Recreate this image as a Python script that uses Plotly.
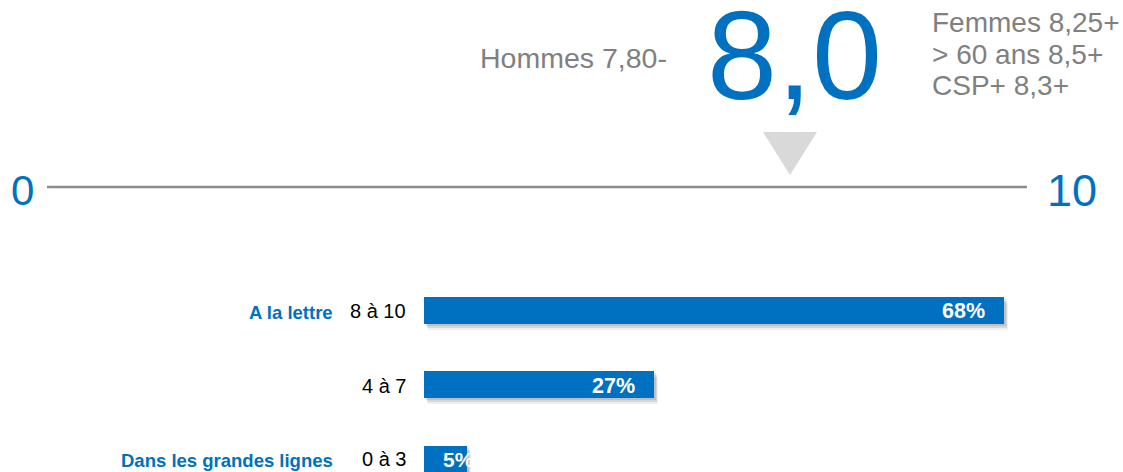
import plotly.graph_objects as go

# ---- data -------------------------------------------------------------
score = 8.0
score_min, score_max = 0, 10
left_groups = ["Hommes 7,80-"]
right_groups = ["Femmes 8,25+", "> 60 ans 8,5+", "CSP+ 8,3+"]

ranges = ["8 à 10", "4 à 7", "0 à 3"]
shares = [68, 27, 5]
range_notes = {"8 à 10": "A la lettre", "0 à 3": "Dans les grandes lignes"}

# ---- styling ----------------------------------------------------------
W, H = 1123, 472
BLUE = "#0070C0"
GREY = "#808080"
FONT = "Arial, Liberation Sans, sans-serif"


def px_x(p):
    return p / W


def px_y(p):
    return 1 - p / H


fig = go.Figure()

# bar geometry: category positions top to bottom
n = len(ranges)
ypos = [n - 1 - i for i in range(n)]
y_lo, y_hi = -0.1745, 6.161
unit_px = H / (y_hi - y_lo)
bar_w = 27 / unit_px

x_left_px = 424
x_full = 68 * (W - x_left_px) / (1004 - x_left_px)
unit_x = (W - x_left_px) / x_full

# soft drop shadow under each bar
for dx, dy, alpha in [(2, 2, 0.10), (3, 4, 0.10), (4, 6, 0.06)]:
    fig.add_trace(go.Bar(
        y=ypos, x=shares, base=[dx / unit_x] * n, orientation="h",
        width=bar_w, offset=-bar_w / 2 - dy / unit_px,
        marker=dict(color=f"rgba(0,0,0,{alpha})", line=dict(width=0)),
        hoverinfo="skip", showlegend=False,
    ))

fig.add_trace(go.Bar(
    y=ypos, x=shares, orientation="h", width=bar_w,
    marker=dict(color=BLUE, line=dict(width=0)),
    hovertemplate="%{x}%<extra></extra>", showlegend=False,
))

annotations = []
for r, v, yp in zip(ranges, shares, ypos):
    last_row = yp == 0
    # value label inside the bar
    if v * unit_x > 60:
        annotations.append(dict(x=v, y=yp, xref="x", yref="y", text=f"<b>{v}%</b>",
                                xanchor="right", yanchor="middle", xshift=-17,
                                yshift=0 if last_row else -1,
                                showarrow=False, font=dict(family=FONT, size=21.5, color="white")))
    else:
        annotations.append(dict(x=0, y=yp, xref="x", yref="y", text=f"<b>{v}%</b>",
                                xanchor="left", yanchor="middle", xshift=17,
                                yshift=0 if last_row else -1,
                                showarrow=False, font=dict(family=FONT, size=21, color="white")))
    # range label left of the bar
    annotations.append(dict(x=0, y=yp, xref="x", yref="y", text=r,
                            xanchor="right", yanchor="middle", xshift=-16,
                            yshift=0 if last_row else -1,
                            showarrow=False, font=dict(family=FONT, size=20, color="black")))
    if r in range_notes:
        annotations.append(dict(x=0, y=yp, xref="x", yref="y", text=f"<b>{range_notes[r]}</b>",
                                xanchor="right", yanchor="middle", xshift=-89,
                                yshift=-1 if last_row else -2,
                                showarrow=False, font=dict(family=FONT, size=18.5, color=BLUE)))

# ---- score header -----------------------------------------------------
score_cx = 794
annotations.append(dict(x=px_x(score_cx), y=px_y(55), xref="paper", yref="paper",
                        text=f"{score:.1f}".replace(".", ","), xanchor="center", yanchor="middle",
                        showarrow=False, font=dict(family=FONT, size=126, color=BLUE)))
annotations.append(dict(x=px_x(669), y=px_y(58), xref="paper", yref="paper",
                        text=left_groups[0], xanchor="right", yanchor="middle",
                        showarrow=False, font=dict(family=FONT, size=28.5, color=GREY)))
for i, t in enumerate(right_groups):
    annotations.append(dict(x=px_x(930), y=px_y(23 + 31.5 * i), xref="paper", yref="paper",
                            text=t, xanchor="left", yanchor="middle",
                            showarrow=False, font=dict(family=FONT, size=28, color=GREY)))

# scale ends
annotations.append(dict(x=px_x(23), y=px_y(191), xref="paper", yref="paper",
                        text=str(score_min), xanchor="center", yanchor="middle",
                        showarrow=False, font=dict(family=FONT, size=42, color=BLUE)))
annotations.append(dict(x=px_x(1072), y=px_y(191), xref="paper", yref="paper",
                        text=str(score_max), xanchor="center", yanchor="middle",
                        showarrow=False, font=dict(family=FONT, size=45, color=BLUE)))

shapes = [
    dict(type="line", xref="paper", yref="paper",
         x0=px_x(47), x1=px_x(1027), y0=px_y(187), y1=px_y(187),
         line=dict(color="#8a8a8a", width=2.5)),
    dict(type="path", xref="paper", yref="paper",
         path=(f"M {px_x(score_cx - 31)} {px_y(132)} L {px_x(score_cx + 23)} {px_y(132)} "
               f"L {px_x(score_cx - 4)} {px_y(175)} Z"),
         fillcolor="#d9d9d9", line=dict(width=0)),
]

fig.update_layout(
    width=W, height=H,
    margin=dict(l=0, r=0, t=0, b=0),
    paper_bgcolor="white", plot_bgcolor="white",
    barmode="overlay", bargap=0,
    xaxis=dict(domain=[px_x(x_left_px), 1], range=[0, x_full], visible=False, fixedrange=True),
    yaxis=dict(domain=[0, 1], range=[y_lo, y_hi], visible=False, fixedrange=True),
    annotations=annotations, shapes=shapes,
    font=dict(family=FONT),
)

fig.write_html("out.html")
